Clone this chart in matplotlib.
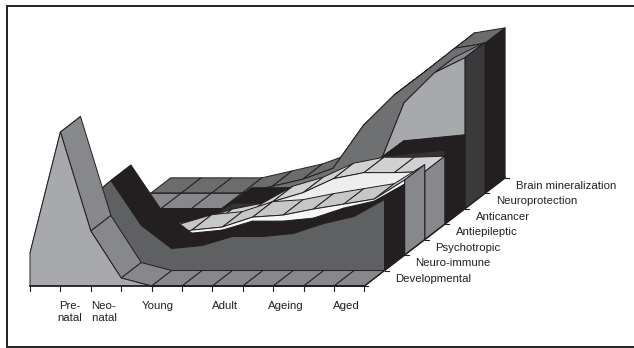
import matplotlib
matplotlib.use('Agg')
import matplotlib.pyplot as plt
import numpy as np

plt.rcParams['font.family'] = ['Liberation Sans', 'DejaVu Sans']

# series, front to back
series_names = ['Developmental', 'Neuro-immune', 'Psychotropic', 'Antiepileptic',
                'Anticancer', 'Neuroprotection', 'Brain mineralization']

developmental = [33, 154, 55, 8, 0, 0, 0, 0, 0, 0, 0, 0]
neuro_immune = [0, 64, 90, 45, 22, 25, 34, 34, 37, 47, 54, 71]
psychotropic = [0, 0, 0, 16, 25, 28, 38, 40, 46, 51, 56, 75]
antiepileptic = [0, 0, 0, 5, 15, 21, 38, 47, 61, 67, 67, 68]
anticancer = [0, 0, 0, 0, 21, 21, 22, 30, 46, 68, 71, 74]
neuroprotection = [0, 0, 0, 0, 0, 5, 12, 20, 30, 106, 136, 151]
brain = [0, 0, 0, 0, 7, 14, 25, 68, 98, 121, 145, 150]

stage_labels = ['Pre-\nnatal', 'Neo-\n natal', 'Young', 'Adult', 'Ageing', 'Aged']
stage_pos = [1.3, 2.4, 4.2, 6.4, 8.4, 10.4]

# colours per series: front, top, side
front_cols = ['#a8a9ad', '#5f6062', '#f7f7f7', '#eeeeee', '#333335', '#a8a9ad', '#6f7072']
top_cols = ['#87888c', '#231f20', '#c6c7c9', '#d0d1d3', '#231f20', '#87888c', '#6b6c6e']
side_cols = ['#87888c', '#231f20', '#87888c', '#87888c', '#231f20', '#3a3a3c', '#231f20']

all_values = [developmental, neuro_immune, psychotropic, antiepileptic,
              anticancer, neuroprotection, brain]

X0, Y0 = 30.0, 286.0
STEP = 30.4
DX, DY = 20.1, -15.45


def project(k, h, r):
    return X0 + STEP * k + DX * r, Y0 + DY * r - h


def poly(ax, pts, col):
    xs = [p[0] for p in pts]
    ys = [p[1] for p in pts]
    ax.fill(xs, ys, facecolor=col, edgecolor='#231f20', lw=0.7, joinstyle='round')


fig = plt.figure(figsize=(6.34, 3.48), dpi=100)
ax = fig.add_axes([0, 0, 1, 1])
ax.set_xlim(0, 634)
ax.set_ylim(348, 0)
ax.axis('off')

# frame has no right side, it runs off the picture
ax.plot([634, 7, 7, 634], [6, 6, 347, 347], color='#231f20', lw=1.4, solid_joinstyle='miter')

n = len(developmental)

# back to front, painter style
for r in range(len(all_values) - 1, -1, -1):
    vals = all_values[r]
    for k in range(n - 1):
        poly(ax, [project(k, vals[k], r), project(k + 1, vals[k + 1], r),
                  project(k + 1, vals[k + 1], r + 1), project(k, vals[k], r + 1)], top_cols[r])
    last = vals[-1]
    if last > 0:
        poly(ax, [project(n - 1, 0, r), project(n - 1, last, r),
                  project(n - 1, last, r + 1), project(n - 1, 0, r + 1)], side_cols[r])
    pts = [project(0, 0, r)] + [project(k, vals[k], r) for k in range(n)] + [project(n - 1, 0, r)]
    poly(ax, pts, front_cols[r])

# axes
x1, y1 = project(0, 0, 0)
x2, y2 = project(n - 1, 0, 0)
ax.plot([x1, x2], [y1, y2], color='#231f20', lw=1.2)
for k in range(n):
    x, y = project(k, 0, 0)
    ax.plot([x, x], [y, y + 5], color='#231f20', lw=0.8)

x3, y3 = project(n - 1, 0, 7)
ax.plot([x2, x3], [y2, y3], color='#231f20', lw=1.0)
for r in range(8):
    x, y = project(n - 1, 0, r)
    ax.plot([x, x + 4], [y, y], color='#231f20', lw=0.8)

for name, r in zip(series_names, range(7)):
    x, y = project(n - 1, 0, r)
    ax.text(x + 31, y - 7.5, name, fontsize=8.2, color='#231f20', ha='left', va='center')

for lab, pos in zip(stage_labels, stage_pos):
    x, y = project(pos, 0, 0)
    ax.text(x, y + 15, lab, fontsize=8.2, color='#231f20', ha='center', va='top', linespacing=1.25)

fig.savefig('out.png', dpi=100)
